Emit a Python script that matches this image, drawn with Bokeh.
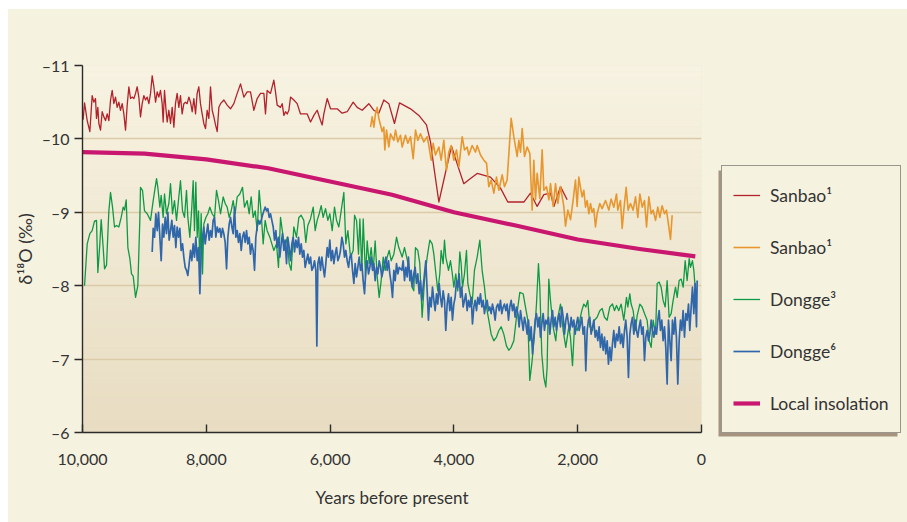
from bokeh.plotting import figure
from bokeh.layouts import row
from bokeh.models import Range1d, Legend, LegendItem, FixedTicker
from bokeh.embed import file_html
from bokeh.resources import INLINE

# ---------------- data ----------------
x_ticks = [10000, 8000, 6000, 4000, 2000, 0]
x_tick_labels = ["10,000", "8,000", "6,000", "4,000", "2,000", "0"]
y_ticks = [-11, -10, -9, -8, -7, -6]
y_tick_labels = ["\u201311", "\u201310", "\u20139", "\u20138", "\u20137", "\u20136"]

series_labels = ["Sanbao\u00b9", "Sanbao\u00b9", "Dongge\u00b3", "Dongge\u2076", "Local insolation"]

# Sanbao (red), years BP, d18O
sanbao_a = [
    (9990, -10.26), (9967, -10.49), (9924, -10.25), (9881, -10.10), (9844, -10.59), (9817, -10.50),
    (9790, -10.55), (9774, -10.28), (9752, -10.43), (9736, -10.21), (9709, -10.12), (9682, -10.37),
    (9655, -10.30), (9628, -10.25), (9601, -10.34), (9574, -10.25), (9547, -10.53), (9520, -10.66),
    (9494, -10.48), (9467, -10.57), (9440, -10.43), (9413, -10.50), (9386, -10.39), (9359, -10.48),
    (9332, -10.34), (9305, -10.12), (9278, -10.46), (9251, -10.71), (9224, -10.55), (9197, -10.57),
    (9170, -10.55), (9143, -10.62), (9117, -10.71), (9090, -10.57), (9063, -10.30), (9036, -10.48),
    (9009, -10.59), (8982, -10.53), (8955, -10.57), (8928, -10.48), (8901, -10.62), (8874, -10.86),
    (8847, -10.71), (8820, -10.50), (8793, -10.64), (8767, -10.57), (8740, -10.66), (8713, -10.48),
    (8697, -10.23), (8675, -10.66), (8654, -10.43), (8632, -10.23), (8605, -10.39), (8578, -10.21),
    (8551, -10.43), (8524, -10.16), (8498, -10.48), (8471, -10.62), (8444, -10.43), (8417, -10.59),
    (8390, -10.34), (8363, -10.48), (8336, -10.50), (8309, -10.48), (8282, -10.57), (8255, -10.50),
    (8228, -10.37), (8201, -10.55), (8174, -10.34), (8148, -10.62), (8121, -10.71), (8094, -10.48),
    (8067, -10.34), (8040, -10.21), (8013, -10.14), (7986, -10.39), (7959, -10.28), (7932, -10.71),
    (7905, -10.39), (7878, -10.30), (7851, -10.19), (7824, -10.10), (7797, -10.43), (7770, -10.48),
    (7716, -10.53), (7663, -10.46), (7609, -10.41), (7555, -10.48), (7501, -10.62), (7447, -10.75),
    (7393, -10.57), (7340, -10.64), (7286, -10.64), (7232, -10.39), (7178, -10.55), (7124, -10.62),
    (7070, -10.62), (7044, -10.34), (7017, -10.66), (6963, -10.62), (6909, -10.80), (6882, -10.64),
    (6855, -10.46), (6801, -10.43), (6774, -10.48), (6747, -10.32), (6720, -10.37), (6693, -10.34),
    (6666, -10.39), (6639, -10.57), (6586, -10.53), (6532, -10.48), (6478, -10.34), (6370, -10.34),
    (6316, -10.23), (6262, -10.32), (6209, -10.39), (6155, -10.25), (6128, -10.19), (6101, -10.34),
    (6047, -10.55), (5993, -10.41), (5886, -10.41), (5805, -10.35), (5724, -10.37), (5627, -10.50),
    (5563, -10.43), (5482, -10.39), (5374, -10.48), (5293, -10.39), (5213, -10.35), (5132, -10.53),
    (5051, -10.48), (4960, -10.21), (4879, -10.49), (4701, -10.41), (4566, -10.32), (4443, -10.19),
    (4378, -9.96), (4324, -9.62), (4243, -9.14), (4163, -9.44), (4039, -9.90), (3947, -9.66),
    (3840, -9.39), (3732, -9.46), (3624, -9.53), (3409, -9.48), (3247, -9.33), (3129, -9.14),
    (2870, -9.14), (2763, -9.26), (2655, -9.08), (2547, -9.24), (2439, -9.26), (2385, -9.08),
    (2278, -9.35), (2170, -9.17),
]

# Sanbao (orange)
sanbao_b = [
    (5347, -10.16), (5320, -10.30), (5293, -10.16), (5267, -10.34), (5240, -10.43), (5213, -10.28),
    (5159, -10.10), (5132, -10.16), (5116, -9.85), (5089, -10.12), (5051, -9.89), (5024, -10.07),
    (4970, -9.98), (4943, -10.12), (4906, -9.96), (4863, -10.05), (4836, -9.89), (4782, -10.05),
    (4744, -9.94), (4701, -10.03), (4658, -9.73), (4620, -10.12), (4583, -9.98), (4540, -10.07),
    (4486, -9.96), (4432, -10.03), (4405, -9.91), (4367, -9.71), (4335, -9.94), (4297, -9.78),
    (4243, -9.89), (4206, -9.71), (4163, -9.98), (4120, -9.57), (4082, -9.82), (4044, -9.91),
    (4001, -9.71), (3958, -9.85), (3920, -9.62), (3866, -10.03), (3829, -9.85), (3786, -9.89),
    (3759, -9.78), (3705, -9.91), (3651, -9.82), (3624, -9.91), (3570, -9.78), (3516, -9.71),
    (3473, -9.67), (3436, -9.35), (3398, -9.44), (3355, -9.26), (3312, -9.48), (3274, -9.30),
    (3220, -9.51), (3183, -9.35), (3140, -9.44), (3112, -9.80), (3075, -10.28), (3032, -10.03),
    (2978, -9.76), (2951, -9.98), (2924, -9.82), (2897, -10.14), (2859, -9.76), (2816, -9.89),
    (2773, -9.80), (2736, -9.03), (2709, -9.71), (2682, -9.17), (2655, -9.53), (2612, -9.19),
    (2574, -9.85), (2547, -9.30), (2504, -9.35), (2466, -9.17), (2439, -9.39), (2396, -9.08),
    (2358, -9.39), (2321, -9.12), (2278, -9.35), (2224, -9.08), (2197, -8.81), (2159, -9.03),
    (2116, -8.90), (2073, -9.17), (2036, -9.44), (2009, -9.08), (1982, -9.48), (1955, -9.34),
    (1928, -9.21), (1901, -9.30), (1874, -9.07), (1847, -9.16), (1820, -8.98), (1793, -9.12),
    (1767, -9.00), (1740, -9.05), (1713, -8.80), (1686, -8.98), (1643, -9.12), (1605, -9.05),
    (1551, -9.16), (1497, -9.03), (1460, -9.18), (1416, -9.07), (1373, -9.25), (1352, -9.03),
    (1309, -9.16), (1282, -8.78), (1255, -9.03), (1217, -9.34), (1185, -9.03), (1147, -9.12),
    (1104, -9.03), (1066, -9.21), (1029, -8.93), (996, -9.25), (958, -9.07), (921, -9.16),
    (888, -8.80), (851, -9.21), (813, -8.98), (781, -9.03), (743, -8.89), (706, -9.07),
    (673, -8.93), (636, -9.09), (598, -8.98), (566, -9.03), (528, -8.80), (501, -8.63), (474, -8.96),
]

# Dongge (green)
dongge_a = [
    (9967, -8.00), (9924, -8.57), (9881, -8.71), (9844, -8.75), (9806, -8.88), (9774, -8.89),
    (9752, -8.18), (9720, -8.57), (9698, -8.90), (9666, -8.52), (9644, -8.23), (9612, -8.28),
    (9574, -9.02), (9547, -9.27), (9515, -9.07), (9483, -8.80), (9450, -8.82), (9413, -8.80),
    (9375, -8.93), (9343, -9.07), (9321, -9.03), (9294, -9.17), (9267, -8.52), (9235, -8.37),
    (9208, -8.16), (9181, -8.13), (9143, -7.84), (9106, -8.00), (9074, -8.89), (9063, -9.34),
    (9031, -9.30), (8998, -9.02), (8955, -8.98), (8901, -8.89), (8858, -9.16), (8804, -9.46),
    (8783, -9.34), (8750, -9.07), (8729, -9.23), (8697, -8.93), (8675, -9.25), (8643, -8.98),
    (8605, -9.12), (8578, -9.39), (8546, -8.98), (8514, -9.16), (8481, -8.89), (8444, -9.21),
    (8417, -9.43), (8384, -9.02), (8352, -8.93), (8320, -9.30), (8298, -8.93), (8266, -8.66),
    (8234, -9.07), (8212, -9.43), (8191, -8.75), (8169, -9.41), (8147, -8.66), (8126, -9.02),
    (8104, -8.25), (8083, -8.98), (8061, -8.16), (8040, -8.84), (8007, -8.93), (7975, -8.98),
    (7943, -9.07), (7905, -8.98), (7867, -8.93), (7835, -9.30), (7803, -9.16), (7770, -8.98),
    (7727, -9.21), (7695, -9.12), (7663, -9.07), (7630, -8.93), (7598, -9.02), (7566, -9.16),
    (7534, -8.98), (7501, -9.21), (7458, -9.25), (7415, -9.34), (7383, -9.07), (7340, -9.16),
    (7307, -8.98), (7275, -9.21), (7243, -8.93), (7210, -9.02), (7178, -8.75), (7146, -9.30),
    (7113, -8.98), (7081, -8.57), (7049, -8.89), (7017, -8.75), (6973, -8.66), (6941, -8.57),
    (6909, -8.48), (6866, -8.57), (6834, -8.25), (6801, -8.93), (6758, -8.66), (6726, -8.52),
    (6693, -8.66), (6661, -8.30), (6629, -8.21), (6586, -8.80), (6543, -8.66), (6505, -8.93),
    (6468, -8.96), (6425, -8.89), (6392, -8.59), (6360, -8.82), (6317, -8.91), (6273, -9.07),
    (6241, -8.75), (6209, -8.89), (6176, -8.98), (6144, -9.09), (6112, -8.93), (6074, -9.05),
    (6036, -8.89), (6004, -8.98), (5966, -8.75), (5929, -9.07), (5896, -8.89), (5859, -8.80),
    (5821, -9.02), (5778, -9.27), (5746, -8.57), (5713, -8.75), (5670, -8.39), (5627, -8.48),
    (5605, -8.96), (5573, -8.89), (5541, -8.43), (5519, -8.91), (5487, -8.21), (5465, -8.91),
    (5428, -8.12), (5401, -8.61), (5369, -8.30), (5336, -8.52), (5304, -8.21), (5272, -8.61),
    (5239, -8.12), (5207, -7.84), (5175, -8.07), (5142, -8.39), (5110, -8.21), (5078, -8.39),
    (5045, -8.48), (5013, -8.34), (4970, -8.43), (4927, -8.66), (4890, -8.52), (4836, -8.39),
    (4798, -8.52), (4755, -8.36), (4712, -8.16), (4674, -7.98), (4648, -7.93), (4621, -8.52),
    (4583, -8.48), (4551, -8.30), (4513, -7.57), (4475, -8.07), (4432, -8.39), (4389, -8.62),
    (4351, -8.57), (4324, -8.43), (4297, -8.21), (4260, -7.93), (4228, -8.16), (4206, -8.48),
    (4174, -8.30), (4152, -8.62), (4131, -8.39), (4109, -8.30), (4087, -8.21), (4055, -8.34),
    (4028, -8.18), (4001, -7.98), (3969, -8.16), (3937, -7.93), (3904, -8.46), (3883, -8.30),
    (3861, -7.98), (3829, -8.16), (3797, -8.48), (3775, -8.03), (3743, -7.89), (3705, -7.75),
    (3668, -8.21), (3624, -8.39), (3581, -8.62), (3544, -8.21), (3506, -7.98), (3474, -7.71),
    (3436, -7.53), (3398, -7.34), (3355, -7.25), (3312, -7.30), (3274, -7.39), (3237, -7.44),
    (3194, -7.34), (3151, -7.18), (3113, -7.12), (3075, -7.16), (3032, -7.25), (2989, -7.57),
    (2935, -7.91), (2881, -7.89), (2844, -7.71), (2806, -7.53), (2774, -6.71), (2736, -6.98),
    (2698, -7.34), (2666, -7.75), (2634, -8.30), (2612, -7.98), (2580, -7.07), (2547, -6.75),
    (2515, -6.62), (2494, -6.89), (2467, -8.09), (2440, -7.80), (2397, -7.44), (2354, -7.25),
    (2321, -7.57), (2278, -7.75), (2235, -7.39), (2192, -7.16), (2144, -7.44), (2117, -7.30),
    (2084, -6.91), (2052, -7.44), (2009, -7.39), (1966, -7.53), (1934, -7.66), (1901, -7.75),
    (1869, -7.71), (1837, -7.80), (1804, -7.44), (1761, -7.39), (1729, -7.53), (1686, -7.57),
    (1643, -7.66), (1605, -7.69), (1567, -7.57), (1524, -7.53), (1481, -7.71), (1438, -7.75),
    (1406, -7.66), (1373, -7.73), (1336, -7.66), (1298, -7.75), (1255, -7.53), (1212, -7.84),
    (1190, -7.71), (1158, -7.89), (1137, -7.75), (1104, -7.66), (1066, -7.39), (1040, -7.59),
    (996, -7.75), (959, -7.71), (921, -7.62), (878, -7.53), (846, -7.25), (813, -7.16),
    (781, -7.53), (743, -7.34), (716, -8.03), (684, -8.05), (652, -7.98), (620, -7.80),
    (587, -7.71), (555, -8.07), (523, -7.57), (490, -7.62), (458, -7.80), (420, -7.98),
    (393, -7.84), (361, -8.07), (329, -8.09), (296, -7.98), (264, -8.34), (232, -8.07),
    (199, -8.37), (178, -8.25), (146, -8.34), (124, -8.21), (103, -7.98),
]

# Dongge (blue)
dongge_b = [
    (8874, -8.46), (8858, -8.78), (8836, -8.66), (8815, -8.98), (8793, -8.75), (8772, -9.00),
    (8750, -8.66), (8729, -8.34), (8707, -8.84), (8686, -8.66), (8664, -8.93), (8643, -8.71),
    (8621, -9.00), (8600, -8.62), (8578, -8.75), (8557, -8.89), (8535, -8.66), (8514, -8.82),
    (8492, -8.52), (8471, -8.80), (8449, -8.66), (8427, -8.78), (8406, -8.48), (8384, -8.57),
    (8363, -8.39), (8341, -8.25), (8320, -8.21), (8298, -8.14), (8277, -8.30), (8255, -8.48),
    (8234, -8.34), (8212, -8.57), (8191, -8.39), (8169, -8.66), (8147, -8.34), (8126, -8.52),
    (8104, -7.89), (8083, -8.43), (8061, -8.66), (8040, -8.80), (8018, -8.57), (7997, -8.71),
    (7975, -8.84), (7954, -8.62), (7932, -8.75), (7911, -8.66), (7889, -8.89), (7867, -8.93),
    (7846, -8.66), (7824, -8.80), (7803, -8.73), (7781, -8.78), (7760, -8.66), (7738, -8.78),
    (7717, -8.71), (7695, -8.59), (7673, -8.23), (7652, -8.66), (7630, -8.84), (7609, -8.93),
    (7587, -8.80), (7566, -8.71), (7544, -9.07), (7523, -8.66), (7501, -8.75), (7480, -8.59),
    (7458, -8.71), (7436, -8.48), (7415, -8.66), (7393, -8.73), (7372, -8.59), (7350, -8.75),
    (7329, -8.57), (7307, -8.66), (7286, -8.43), (7264, -8.57), (7243, -8.48), (7221, -8.21),
    (7200, -8.66), (7178, -8.80), (7156, -8.89), (7135, -8.84), (7113, -8.89), (7092, -8.96),
    (7070, -9.02), (7049, -9.07), (7027, -9.02), (7006, -9.05), (6984, -8.93), (6963, -8.98),
    (6941, -8.89), (6919, -8.80), (6898, -8.62), (6876, -8.75), (6855, -8.52), (6833, -8.66),
    (6812, -8.39), (6790, -8.57), (6769, -8.71), (6747, -8.48), (6726, -8.62), (6704, -8.30),
    (6683, -8.66), (6661, -8.52), (6639, -8.34), (6618, -8.57), (6596, -8.66), (6575, -8.46),
    (6553, -8.62), (6532, -8.52), (6510, -8.66), (6489, -8.43), (6467, -8.57), (6446, -8.39),
    (6424, -8.48), (6403, -8.25), (6381, -8.34), (6360, -8.43), (6338, -8.30), (6316, -8.39),
    (6295, -8.21), (6273, -8.25), (6252, -8.34), (6230, -8.21), (6214, -7.18), (6198, -8.30),
    (6176, -8.39), (6155, -8.21), (6133, -8.39), (6112, -8.25), (6090, -8.12), (6069, -8.30),
    (6047, -8.52), (6026, -8.39), (6004, -8.62), (5983, -8.34), (5961, -8.48), (5939, -8.30),
    (5918, -8.43), (5896, -8.52), (5875, -8.34), (5853, -8.39), (5832, -8.48), (5810, -8.66),
    (5789, -8.57), (5767, -8.39), (5746, -8.48), (5724, -8.34), (5702, -8.25), (5681, -8.39),
    (5659, -8.43), (5638, -8.21), (5616, -8.03), (5595, -8.30), (5573, -8.12), (5552, -8.25),
    (5530, -8.39), (5509, -8.21), (5487, -8.30), (5466, -8.07), (5444, -7.89), (5423, -8.21),
    (5401, -8.34), (5380, -8.16), (5358, -8.25), (5336, -8.39), (5315, -8.21), (5293, -8.30),
    (5272, -8.07), (5250, -8.25), (5229, -8.16), (5207, -8.34), (5186, -8.25), (5164, -8.12),
    (5142, -8.21), (5121, -8.30), (5099, -8.39), (5078, -8.21), (5056, -8.34), (5035, -8.16),
    (5013, -8.03), (4992, -7.84), (4970, -8.21), (4949, -8.07), (4927, -8.30), (4905, -8.16),
    (4884, -8.25), (4841, -8.21), (4820, -8.34), (4798, -8.07), (4777, -8.25), (4755, -8.12),
    (4734, -8.39), (4712, -8.07), (4691, -8.21), (4669, -7.98), (4648, -8.16), (4626, -8.25),
    (4605, -8.03), (4583, -8.16), (4561, -7.89), (4540, -8.07), (4518, -7.80), (4497, -7.98),
    (4475, -8.16), (4454, -8.34), (4432, -7.93), (4411, -7.53), (4389, -7.84), (4367, -7.71),
    (4346, -7.98), (4324, -7.80), (4303, -7.66), (4281, -7.89), (4260, -7.75), (4238, -8.03),
    (4217, -7.84), (4195, -7.71), (4174, -7.93), (4152, -7.80), (4131, -7.39), (4109, -7.75),
    (4087, -7.89), (4066, -7.66), (4044, -7.84), (4023, -7.53), (4001, -7.75), (3980, -7.84),
    (3958, -8.07), (3937, -7.98), (3915, -8.16), (3894, -7.84), (3872, -7.98), (3851, -7.71),
    (3829, -7.80), (3808, -7.89), (3786, -7.66), (3764, -7.80), (3743, -7.71), (3721, -7.84),
    (3700, -7.48), (3678, -7.71), (3657, -7.80), (3635, -7.66), (3614, -7.84), (3592, -7.75),
    (3571, -7.89), (3549, -7.71), (3527, -7.80), (3506, -7.62), (3484, -7.75), (3463, -7.80),
    (3441, -7.66), (3420, -7.71), (3398, -7.62), (3377, -7.75), (3355, -7.66), (3334, -7.53),
    (3312, -7.71), (3290, -7.75), (3269, -7.66), (3248, -7.80), (3226, -7.62), (3204, -7.71),
    (3183, -7.75), (3161, -7.66), (3140, -7.75), (3118, -7.53), (3097, -7.71), (3075, -7.80),
    (3054, -7.66), (3032, -7.75), (3011, -7.57), (2989, -7.71), (2967, -7.62), (2946, -7.44),
    (2924, -7.66), (2903, -7.53), (2881, -7.39), (2860, -7.57), (2838, -7.48), (2817, -7.34),
    (2795, -7.53), (2774, -7.25), (2752, -7.44), (2730, -7.07), (2709, -7.30), (2687, -7.53),
    (2666, -7.62), (2644, -7.44), (2623, -7.57), (2601, -7.30), (2580, -7.48), (2558, -7.62),
    (2537, -7.39), (2515, -7.53), (2494, -7.48), (2472, -7.57), (2450, -7.34), (2429, -7.53),
    (2407, -7.66), (2386, -7.44), (2364, -7.57), (2343, -7.39), (2321, -7.53), (2300, -7.62),
    (2278, -7.44), (2257, -7.71), (2235, -7.57), (2213, -7.34), (2192, -7.53), (2170, -7.62),
    (2149, -7.48), (2127, -7.39), (2106, -7.57), (2084, -7.44), (2063, -7.53), (2041, -7.34),
    (2020, -7.48), (1998, -7.57), (1977, -7.39), (1955, -7.48), (1934, -7.57), (1912, -7.34),
    (1890, -7.44), (1869, -6.84), (1847, -7.39), (1826, -7.53), (1804, -7.57), (1783, -7.34),
    (1761, -7.44), (1740, -7.53), (1718, -7.30), (1697, -7.39), (1675, -7.25), (1654, -7.44),
    (1632, -7.16), (1610, -7.34), (1589, -7.12), (1567, -7.30), (1546, -7.07), (1524, -7.25),
    (1503, -6.93), (1481, -7.16), (1460, -6.98), (1438, -7.21), (1417, -7.39), (1395, -7.16),
    (1373, -7.34), (1352, -7.25), (1330, -7.44), (1309, -7.21), (1287, -7.34), (1266, -7.16),
    (1244, -7.39), (1223, -7.53), (1201, -7.30), (1180, -6.75), (1158, -7.34), (1137, -7.48),
    (1115, -7.57), (1093, -7.34), (1072, -7.53), (1050, -7.39), (1029, -7.30), (1007, -7.44),
    (986, -7.53), (964, -7.34), (943, -7.44), (921, -6.98), (900, -7.30), (878, -7.39),
    (857, -7.25), (835, -7.34), (813, -7.53), (792, -7.39), (770, -7.30), (749, -7.44),
    (727, -7.34), (706, -7.53), (684, -7.66), (663, -7.39), (641, -7.53), (620, -7.25),
    (598, -7.44), (577, -7.16), (555, -6.66), (533, -7.53), (512, -7.25), (490, -6.98),
    (469, -7.53), (447, -7.34), (426, -7.57), (405, -7.30), (383, -6.66), (361, -7.25),
    (340, -7.53), (318, -7.39), (297, -7.66), (275, -7.30), (253, -7.62), (232, -7.53),
    (210, -7.75), (189, -7.39), (167, -7.71), (146, -7.98), (124, -7.62), (103, -8.03),
    (81, -7.44), (70, -8.07),
]

# Local insolation curve
insolation = [
    (10000, -9.82), (9000, -9.80), (8000, -9.72), (7000, -9.60), (6000, -9.42), (5000, -9.24),
    (4000, -9.00), (3000, -8.82), (2000, -8.63), (1000, -8.50), (100, -8.40),
]

# ---------------- styling ----------------
FONT = "Lato"
TEXT = "#333333"
OUTER_BG = "#F6F2E0"
GRAD_TOP = (247, 243, 226)
GRAD_BOTTOM = (232, 220, 194)

colors = ["#B3222B", "#E8962E", "#0E9A45", "#3067AA", "#C9166F"]
widths = [1.3, 1.6, 1.3, 1.7, 4.2]

FIG_H = 513
MAIN_W = 74 + 619 + 12

p = figure(width=MAIN_W, height=FIG_H,
           x_range=Range1d(x_ticks[0], x_ticks[-1]),
           y_range=Range1d(y_ticks[-1], y_ticks[0]),
           output_backend="svg", toolbar_location=None,
           min_border_left=74, min_border_right=12,
           min_border_top=56, min_border_bottom=90)

p.background_fill_color = "#EFE7D0"
p.border_fill_color = OUTER_BG
p.outline_line_color = None

# vertical gradient of the plotting area
n = 60
ylo, yhi = y_ticks[0], y_ticks[-1]
tops, bottoms, cols = [], [], []
for i in range(n):
    t0 = ylo + (yhi - ylo) * i / n
    t1 = ylo + (yhi - ylo) * (i + 1) / n
    f = (i + 0.5) / n
    c = tuple(int(round(GRAD_TOP[k] + (GRAD_BOTTOM[k] - GRAD_TOP[k]) * f)) for k in range(3))
    tops.append(t0)
    bottoms.append(t1)
    cols.append("#%02x%02x%02x" % c)
bg = p.quad(left=x_ticks[0], right=x_ticks[-1], top=tops, bottom=bottoms,
            fill_color=cols, line_color=cols, line_width=0.5)
bg.level = "image"

series = [sanbao_a, sanbao_b, dongge_a, dongge_b, insolation]
for data, col, w in zip(series, colors, widths):
    xs = [d[0] for d in data]
    ys = [d[1] for d in data]
    p.line(xs, ys, line_color=col, line_width=w, line_join="round")

# grid
p.xgrid.visible = False
p.ygrid.ticker = FixedTicker(ticks=y_ticks)
p.ygrid.grid_line_color = "#DCCBA8"
p.ygrid.grid_line_width = 1.6

# axes
p.xaxis.ticker = FixedTicker(ticks=x_ticks)
p.xaxis.major_label_overrides = {t: s for t, s in zip(x_ticks, x_tick_labels)}
p.yaxis.ticker = FixedTicker(ticks=y_ticks)
p.yaxis.major_label_overrides = {t: s for t, s in zip(y_ticks, y_tick_labels)}

for ax in (p.xaxis[0], p.yaxis[0]):
    ax.axis_line_color = "#2b2b2b"
    ax.axis_line_width = 1.4
    ax.major_tick_line_color = "#2b2b2b"
    ax.major_tick_line_width = 1.4
    ax.minor_tick_line_color = None
    ax.major_label_text_font = FONT
    ax.major_label_text_font_size = "16px"
    ax.major_label_text_color = TEXT
    ax.axis_label_text_font = FONT
    ax.axis_label_text_font_size = "17px"
    ax.axis_label_text_font_style = "normal"
    ax.axis_label_text_color = TEXT

p.xaxis.major_tick_in = 8
p.xaxis.major_tick_out = 0
p.xaxis.major_label_standoff = 21
p.xaxis.axis_label = "Years before present"
p.xaxis.axis_label_standoff = 19

p.yaxis.major_tick_in = 0
p.yaxis.major_tick_out = 8
p.yaxis.major_label_standoff = 5
p.yaxis.axis_label = "\u03b4\u00b9\u2078O (\u2030)"
p.yaxis.axis_label_standoff = 3
p.yaxis.axis_label_text_font_size = "18px"

# ---------------- legend panel ----------------
LW = 907 - (8 + MAIN_W)
q = figure(width=LW, height=FIG_H, x_range=Range1d(0, LW), y_range=Range1d(0, FIG_H),
           x_axis_type=None, y_axis_type=None, output_backend="svg",
           toolbar_location=None, min_border=0)
if hasattr(q, "frame_align"):
    q.frame_align = False
q.background_fill_color = OUTER_BG
q.border_fill_color = OUTER_BG
q.outline_line_color = None
q.grid.visible = False

LEG_X, LEG_Y, LEG_W, LEG_H = 8, 89, 179, 266
q.quad(left=LEG_X - 3, right=LEG_X - 3 + LEG_W, bottom=LEG_Y - 3, top=LEG_Y - 3 + LEG_H,
       fill_color="#A5937F", line_color=None)

proxies = [q.line(x=[-60, -50], y=[-60, -50], line_color=c, line_width=w)
           for c, w in zip(colors, widths)]
legend = Legend(
    items=[LegendItem(label=lab, renderers=[r]) for lab, r in zip(series_labels, proxies)],
    location=(LEG_X, LEG_Y), margin=0, padding=11, spacing=16,
    label_height=36, glyph_height=36, glyph_width=27, label_standoff=10,
    border_line_color="#3a3a3a", border_line_width=1,
    background_fill_color=OUTER_BG, background_fill_alpha=1.0,
    label_text_font=FONT, label_text_font_size="17.5px", label_text_color=TEXT,
)
q.add_layout(legend, "center")

layout = row(p, q, spacing=0, margin=(9, 0, 0, 8),
             styles={"background-color": OUTER_BG})
open("out.html", "w").write(file_html(layout, INLINE))
